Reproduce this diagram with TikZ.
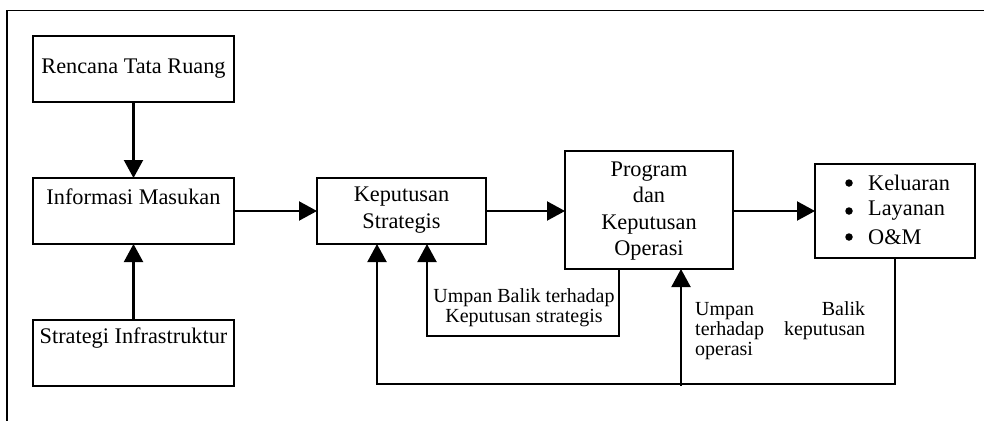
\documentclass[tikz,border=0pt]{standalone}
\usepackage{fontspec}
\setmainfont{Liberation Serif}
\usetikzlibrary{arrows.meta}
\begin{document}
\begin{tikzpicture}[x=1pt,y=-1pt,
  blk/.style={draw, line width=2.1pt, inner sep=0pt, outer sep=0pt},
  lbl/.style={font=\fontsize{22.3}{26.5}\selectfont, align=center, inner sep=0pt},
  note/.style={font=\fontsize{20}{20}\selectfont, inner sep=0pt},
  dot/.style={circle, fill, inner sep=0pt, minimum size=7.5pt},
  flow/.style={line width=2.1pt, -{Triangle[length=18pt,width=19pt]}}]
\useasboundingbox (0,0) rectangle (984,421);

% outer frame (top and left sides)
\draw[line width=1.8pt] (984,10.5) -- (7,10.5) -- (7,421);

% boxes
\node[blk, minimum width=201pt, minimum height=66pt] (rtr) at (133.5,69) {};
\node[blk, minimum width=201pt, minimum height=66pt] (im)  at (133.5,211) {};
\node[blk, minimum width=201pt, minimum height=66pt] (si)  at (133.5,353) {};
\node[blk, minimum width=169pt, minimum height=66pt] (ks)  at (401.5,211) {};
\node[blk, minimum width=168pt, minimum height=118pt] (pk) at (649,210) {};
\node[blk, minimum width=160pt, minimum height=94pt] (out) at (895,211) {};

% box texts
\node[lbl] (trtr) at (133.5,69) {Rencana Tata Ruang};
\node[lbl] (tim)  at (133.5,197) {Informasi Masukan};
\node[lbl] (tsi)  at (133.5,338) {Strategi Infrastruktur};
\node[lbl] (tks)  at (401.5,210) {Keputusan\\Strategis};
\node[lbl] (tpk)  at (649,211) {Program\\dan\\Keputusan\\Operasi};

% bullet list of outputs
\node[dot] (b1) at (849,183) {};
\node[dot] (b2) at (849,211) {};
\node[dot] (b3) at (849,237) {};
\node[lbl, anchor=west] (o1) at (868,183) {Keluaran};
\node[lbl, anchor=west] (o2) at (868,211) {Layanan};
\node[lbl, anchor=west] (o3) at (868,237) {O\&M};

% main flow
\draw[flow] (rtr) -- (im);
\draw[flow] (si) -- (im);
\draw[flow] (im) -- (ks);
\draw[flow] (ks.east) -- (ks.east -| pk.west);
\draw[flow] (pk.east |- out.west) -- (out.west);

% feedback to strategic decisions
\coordinate (f1) at (619,336);
\coordinate (f2) at (427,336);
\draw[flow] (f1 |- pk.south) -- (f1) -- (f2) -- (f2 |- ks.south);
\node[note, align=center] (nf1) at (524,308) {Umpan Balik terhadap\\Keputusan strategis};

% feedback loop from outputs
\coordinate (c1) at (377,384);
\coordinate (c2) at (681,386);
\draw[flow] (out.south) |- (c1) -- (c1 |- ks.south);
\draw[flow] (c2) -- (c2 |- pk.south);
\node[note, align=left, text width=170pt, anchor=north west] (nf2) at (695,301)
  {Umpan\hfill Balik\\terhadap\hfill keputusan\\operasi};
\end{tikzpicture}
\end{document}
